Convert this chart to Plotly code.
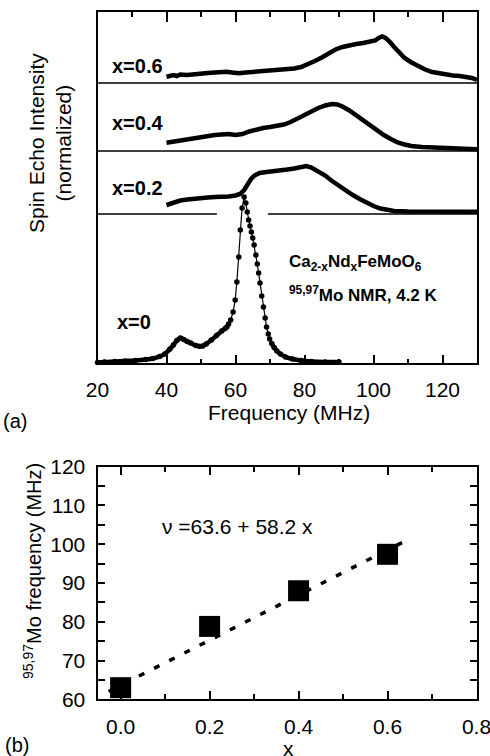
import numpy as np
import plotly.graph_objects as go

# ---------------- (a) 95,97Mo spin-echo spectra, Ca(2-x)Nd(x)FeMoO6 ----------------
# x = 0
freq_x0 = [20, 22, 25, 28, 31, 34, 36, 38, 39.5, 41, 42, 43, 44, 45, 46, 47, 48.5, 49.5,
           50.5, 51.5, 53, 54.5, 56, 57, 57.5, 58.0, 58.6, 59.3, 59.9, 60.4, 60.95, 61.4,
           61.9, 62.5, 63.0, 63.4, 63.8, 64.2, 64.6, 65.0, 65.4, 65.9, 66.3, 66.7, 67.1,
           67.6, 68.1, 68.6, 69.0, 69.5, 69.9, 70.5, 71.2, 72.0, 73.0, 74.5, 76.5, 79, 82,
           86, 90]
int_x0 = [0.5, 1, 1.5, 2, 2.5, 3.5, 4.5, 6.5, 9, 14, 18, 22.5, 25, 23.5, 21.5, 20, 17.5, 16.7,
          17, 19, 23, 27.5, 32, 34.5, 36, 39, 43, 51, 63, 81, 106, 133,
          155, 166, 160, 151, 143, 137, 131, 125, 118, 108, 99, 90, 80,
          67, 56, 45, 36, 29, 24, 19.5, 15.5, 12, 9, 6, 4, 2.5, 1.5,
          1, 1]

# x = 0.2
freq_x02 = [40, 42, 44, 46, 48, 50, 52, 54, 56, 58, 60, 61.3, 62.5, 63.5, 64.5, 65.5, 67, 69,
            71, 73, 75, 77, 79, 80.5, 82, 84, 86, 88, 90, 92, 94, 96, 98, 100, 102, 104, 106,
            110, 115, 120, 125, 130]
int_x02 = [9, 11.5, 13.5, 14.5, 15.5, 16, 16.5, 17, 17, 17.5, 18.5, 20, 24, 30, 35, 38.5, 41, 42,
           42.5, 43.5, 44.5, 45.5, 47, 48, 46.5, 43, 38.5, 33, 28, 23, 19, 15, 11, 8, 5.5, 4, 3,
           2.5, 2.3, 2.3, 2.3, 2.3]

# x = 0.4
freq_x04 = [40, 42, 44, 46, 48, 50, 52, 54, 56, 58, 60, 62, 64, 66, 68, 70, 72, 74, 76, 78, 80,
            82, 84, 86, 88, 89.5, 91, 93, 95, 97, 99, 101, 103, 105, 107, 109, 111, 114, 118,
            122, 126, 130]
int_x04 = [8.3, 9.5, 10.7, 11.7, 13, 14, 15, 16, 16.5, 17, 16, 17, 19.5, 21.5, 23, 24, 24.8, 26.5,
           29, 32.5, 36.5, 40, 43, 45.5, 47, 46.5, 44.5, 40.5, 35.5, 30.5, 25.5, 20.5, 16, 12,
           8.5, 6.5, 5, 4, 3.5, 2.8, 2.2, 1.7]

# x = 0.6
freq_x06 = [40, 41, 42, 43, 44, 46, 48, 50, 52, 54, 56, 57.5, 59, 61, 63, 65, 67, 69, 71, 73, 75,
            77, 79, 81, 83, 85, 87, 89, 91, 93, 95, 97, 99, 100.5, 101.5, 102.5, 103.5, 104.5,
            106, 107.5, 109, 111, 113, 115, 117, 119, 121, 123, 125, 127, 128.5, 130]
int_x06 = [6.3, 7.5, 8, 7, 8.5, 8, 9, 9.7, 10, 10.5, 11, 11.3, 10.5, 9.7, 10.5, 11, 11.5, 12,
           12.5, 13, 13.5, 14.5, 16, 18.5, 22, 25.5, 30, 33.5, 36, 38, 39, 40, 41, 42.5, 45,
           46.5, 45, 42, 36, 30, 25, 20.5, 16.5, 13.5, 11, 9.5, 8.5, 7.5, 7, 6.3, 5, 3]

spectrum_labels = ["x=0", "x=0.2", "x=0.4", "x=0.6"]

# ---------------- (b) peak frequency vs. Nd content ----------------
nd_x = [0.0, 0.2, 0.4, 0.6]
peak_freq = [63.0, 78.8, 88.0, 97.4]
fit_a, fit_b = 63.6, 58.2
fit_x = [-0.027, 0.65]

# ---------------- layout helpers (page is 490 x 756 px) ----------------
W, H = 490, 756
FONT = "Liberation Sans, Arial, Helvetica, sans-serif"


def px_x(p):
    return p / W


def px_y(p):
    return 1 - p / H


# vertical stacking of the spectra inside panel (a)
offsets = {"x=0": 0, "x=0.2": 149, "x=0.4": 212, "x=0.6": 280}

fig = go.Figure()

# ---- x = 0: flat wings as a dense line, steep central peak as dots joined by a thin line
f0 = np.array(freq_x0, dtype=float)
i0 = np.array(int_x0, dtype=float) + offsets["x=0"]
lo = f0 <= 58.0
hi = f0 >= 70.5
for m in (lo, hi):
    fig.add_trace(go.Scatter(x=f0[m], y=i0[m], mode="lines",
                             line=dict(color="black", width=4.5, shape="spline"),
                             xaxis="x", yaxis="y", hoverinfo="skip"))
fig.add_trace(go.Scatter(x=f0, y=i0, mode="lines+markers",
                         line=dict(color="black", width=1.2),
                         marker=dict(color="black", size=5.5),
                         xaxis="x", yaxis="y", cliponaxis=False))

for lab, fr, iv in (("x=0.2", freq_x02, int_x02),
                    ("x=0.4", freq_x04, int_x04),
                    ("x=0.6", freq_x06, int_x06)):
    yv = np.array(iv, dtype=float) + offsets[lab]
    fig.add_trace(go.Scatter(x=fr, y=yv, mode="lines",
                             line=dict(color="black", width=4.5),
                             xaxis="x", yaxis="y", cliponaxis=False))

# baselines of the stacked spectra
base_segments = [("x=0.6", 20, 130), ("x=0.4", 20, 130),
                 ("x=0.2", 20, 54.6), ("x=0.2", 69.4, 130)]
for lab, xa, xb in base_segments:
    fig.add_shape(type="line", xref="x", yref="y", x0=xa, x1=xb,
                  y0=offsets[lab], y1=offsets[lab],
                  line=dict(color="black", width=1.3))

# ---- panel (b)
fx = np.array(fit_x)
fig.add_trace(go.Scatter(x=fx, y=fit_a + fit_b * fx, mode="lines",
                         line=dict(color="black", width=3.5, dash="6px,11px"),
                         xaxis="x2", yaxis="y2"))
fig.add_trace(go.Scatter(x=nd_x, y=peak_freq, mode="markers",
                         marker=dict(symbol="square", size=21, color="black"),
                         xaxis="x2", yaxis="y2", cliponaxis=False))

# invisible companions so the tick-only frame axes are always rendered
for xa, ya, xs, ys in (("x3", "y", freq_x06, int_x06),
                       ("x4", "y2", nd_x, peak_freq),
                       ("x2", "y3", nd_x, peak_freq)):
    fig.add_trace(go.Scatter(x=xs, y=ys, xaxis=xa, yaxis=ya, mode="markers",
                             marker=dict(size=1, opacity=0), hoverinfo="skip"))

axis_common = dict(showline=True, linecolor="black", linewidth=2, mirror=True,
                   ticks="inside", tickcolor="black", tickwidth=2,
                   showgrid=False, zeroline=False, ticklabeloverflow="allow",
                   tickfont=dict(family=FONT, size=21, color="black"))

# tick-only companion axes on the opposite frame edges
tick_only = dict(showline=False, ticks="inside", tickcolor="black", tickwidth=2,
                 showticklabels=False, showgrid=False, zeroline=False,
                 automargin=False)

xa_top = dict(range=[20, 130], tick0=20, dtick=20)
xb_top = dict(range=[-0.052, 0.8], tickvals=[0, 0.2, 0.4, 0.6, 0.8])
yb_top = dict(range=[60, 120], dtick=10, tick0=60)

fig.update_layout(
    width=W, height=H,
    margin=dict(l=0, r=0, t=0, b=0),
    paper_bgcolor="white", plot_bgcolor="white",
    showlegend=False,
    xaxis=dict(domain=[px_x(97.5), px_x(477)], anchor="y", ticklen=8,
               ticklabelstandoff=7,
               minor=dict(dtick=10, tick0=20, ticks="inside", ticklen=4,
                          tickwidth=2, tickcolor="black"),
               automargin=False, **xa_top, **axis_common),
    yaxis=dict(domain=[px_y(363), px_y(12)], anchor="x", range=[0, 351],
               showline=True, linecolor="black", linewidth=2, mirror=True,
               showticklabels=False, ticks="", showgrid=False, zeroline=False,
               automargin=False),
    xaxis2=dict(domain=[px_x(97.5), px_x(476.5)], anchor="y2",
                tickformat=".1f", ticklen=8, ticklabelstandoff=7,
                minor=dict(tickvals=[0.1, 0.3, 0.5, 0.7], ticks="inside", ticklen=5,
                           tickwidth=2, tickcolor="black"),
                automargin=False, **xb_top, **axis_common),
    yaxis2=dict(domain=[px_y(699.3), px_y(466.7)], anchor="x2",
                ticklen=7, ticklabelstandoff=6,
                minor=dict(dtick=5, tick0=60, ticks="inside", ticklen=7,
                           tickwidth=2, tickcolor="black"),
                automargin=False, **yb_top, **axis_common),
    xaxis3=dict(overlaying="x", side="top", anchor="y", ticklen=10,
                minor=dict(dtick=10, tick0=20, ticks="inside", ticklen=5,
                           tickwidth=2, tickcolor="black"),
                **xa_top, **tick_only),
    xaxis4=dict(overlaying="x2", side="top", anchor="y2", ticklen=8,
                minor=dict(tickvals=[0.1, 0.3, 0.5, 0.7], ticks="inside", ticklen=5,
                           tickwidth=2, tickcolor="black"),
                **xb_top, **tick_only),
    yaxis3=dict(overlaying="y2", side="right", anchor="x2", ticklen=7,
                minor=dict(dtick=5, tick0=60, ticks="inside", ticklen=7,
                           tickwidth=2, tickcolor="black"),
                **yb_top, **tick_only),
)


def note(text, x, y, size=21, bold=False, xanchor="center", angle=0):
    fig.add_annotation(text=f"<b>{text}</b>" if bold else text,
                       xref="paper", yref="paper", x=px_x(x), y=px_y(y),
                       xanchor=xanchor, yanchor="middle", showarrow=False,
                       textangle=angle,
                       font=dict(family=FONT, size=size, color="black"))


# axis titles and panel tags
note("Spin Echo Intensity<br>(normalized)", 50, 143, size=21, angle=-90)
note("Frequency (MHz)", 289, 412, size=21)
note("(a)", 1, 421, size=20, xanchor="left")
note("<sup>95,97</sup>Mo frequency (MHz)", 32, 571, size=20, angle=-90)
note("x", 288, 748, size=21)
note("(b)", 3, 745, size=20, xanchor="left")

# spectrum labels
label_pos = {"x=0.6": (110, 66), "x=0.4": (110, 123), "x=0.2": (110, 188), "x=0": (115, 322)}
for lab in spectrum_labels:
    lx, ly = label_pos[lab]
    note(lab, lx, ly, size=20, bold=True, xanchor="left")

note("Ca<sub>2-x</sub>Nd<sub>x</sub>FeMoO<sub>6</sub>", 287, 263, size=17, bold=True,
     xanchor="left")
note("<sup>95,97</sup>Mo NMR, 4.2 K", 287, 294, size=17, bold=True, xanchor="left")

note(f"\u03bd ={fit_a} + {fit_b} x", 160, 526, size=21, xanchor="left")

fig.write_html("out.html")
